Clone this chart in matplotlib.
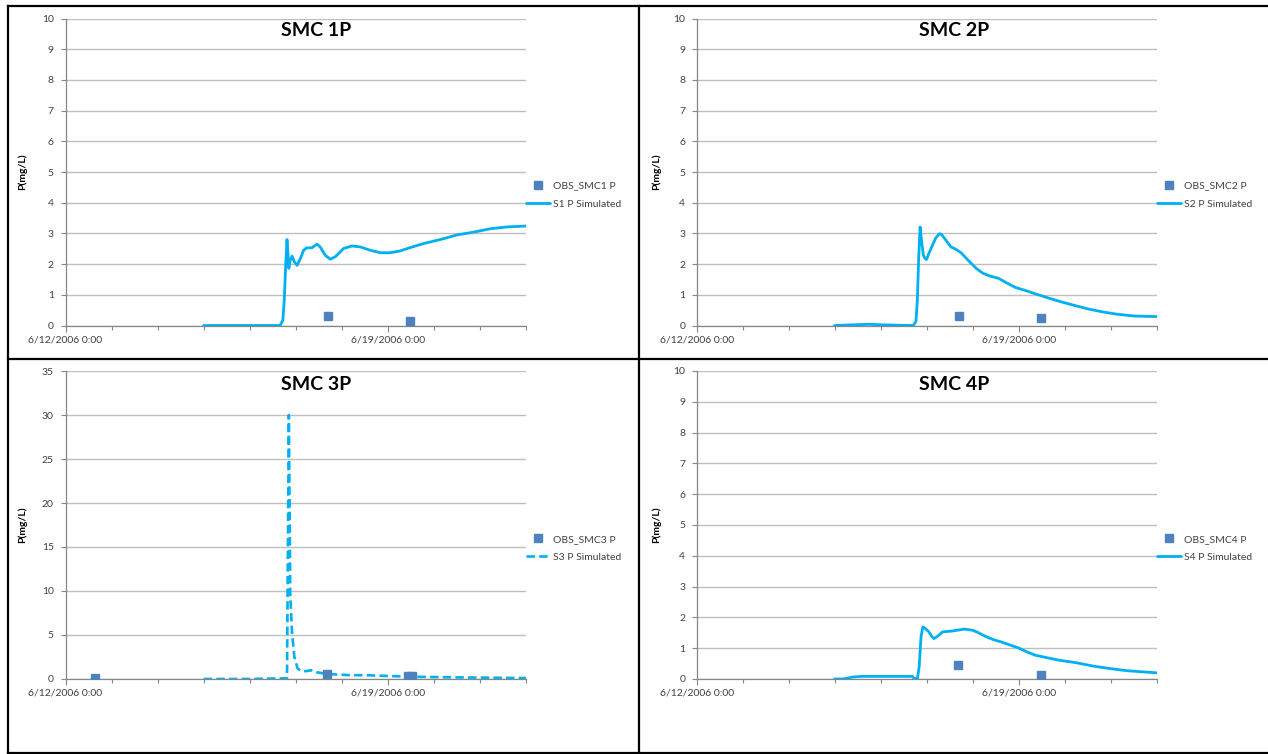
import numpy as np
import matplotlib
matplotlib.use("Agg")
import matplotlib.pyplot as plt
import matplotlib.dates as mdates
from matplotlib.lines import Line2D

plt.rcParams['font.family'] = ['Lato', 'DejaVu Sans']

# ---- data (time in days after 6/12/2006 0:00, P in mg/L) ----
START = np.datetime64('2006-06-12T00:00')

s1_days = [3.0, 3.94, 4.66, 4.72, 4.75, 4.78, 4.81, 4.83, 4.85, 4.88, 4.92, 4.97,
           5.03, 5.10, 5.17, 5.24, 5.35, 5.46, 5.53, 5.64, 5.75, 5.86, 6.04, 6.22,
           6.40, 6.62, 6.84, 7.05, 7.27, 7.49, 7.78, 8.14, 8.50, 8.86, 9.22, 9.58, 10.0]
s1_vals = [0.0, 0.0, 0.0, 0.17, 0.82, 1.90, 2.80, 2.36, 1.86, 2.12, 2.26, 2.07,
           1.96, 2.18, 2.45, 2.53, 2.53, 2.65, 2.56, 2.29, 2.16, 2.24, 2.51, 2.59,
           2.56, 2.45, 2.37, 2.37, 2.43, 2.54, 2.67, 2.80, 2.95, 3.04, 3.15, 3.21, 3.24]
obs1_days = [5.71, 7.48]
obs1_vals = [0.30, 0.14]

s2_days = [2.99, 3.32, 3.76, 4.05, 4.70, 4.76, 4.79, 4.82, 4.85, 4.88, 4.92, 4.96,
           4.99, 5.04, 5.12, 5.19, 5.27, 5.32, 5.41, 5.52, 5.63, 5.74, 5.89, 6.07,
           6.22, 6.37, 6.55, 6.73, 6.92, 7.14, 7.36, 7.65, 7.94, 8.24, 8.53, 8.83,
           9.12, 9.49, 10.0]
s2_vals = [0.0, 0.02, 0.04, 0.02, 0.0, 0.13, 0.83, 2.24, 3.21, 2.78, 2.29, 2.18,
           2.15, 2.35, 2.62, 2.85, 2.99, 2.96, 2.78, 2.56, 2.48, 2.37, 2.13, 1.86,
           1.70, 1.61, 1.54, 1.39, 1.24, 1.14, 1.03, 0.89, 0.76, 0.64, 0.53, 0.44,
           0.37, 0.31, 0.29]
obs2_days = [5.69, 7.47]
obs2_vals = [0.32, 0.24]

s3_days = [3.0, 3.91, 4.80, 4.81, 4.85, 4.87, 4.88, 4.92, 4.97, 5.04, 5.12, 5.24,
           5.33, 5.46, 5.68, 6.12, 6.57, 7.01, 7.45, 8.34, 9.22, 10.0]
s3_vals = [0.0, 0.0, 0.08, 0.08, 30.0, 17.3, 9.7, 5.2, 2.5, 1.2, 0.9, 0.9,
           1.0, 0.76, 0.57, 0.45, 0.42, 0.34, 0.27, 0.19, 0.15, 0.11]
obs3_days = [0.64, 5.68, 7.44, 7.52]
obs3_vals = [0.08, 0.57, 0.32, 0.30]

s4_days = [2.99, 3.17, 3.39, 3.61, 4.05, 4.68, 4.71, 4.79, 4.83, 4.87, 4.91, 4.97,
           5.04, 5.10, 5.15, 5.23, 5.34, 5.56, 5.81, 6.00, 6.11, 6.26, 6.44, 6.62,
           6.81, 6.99, 7.17, 7.36, 7.58, 7.87, 8.24, 8.61, 8.97, 9.34, 9.71, 10.0]
s4_vals = [0.0, 0.0, 0.065, 0.086, 0.086, 0.086, 0.03, 0.0, 0.40, 1.37, 1.69, 1.63,
           1.53, 1.39, 1.31, 1.39, 1.53, 1.56, 1.62, 1.58, 1.51, 1.39, 1.28, 1.20,
           1.10, 1.01, 0.88, 0.77, 0.70, 0.61, 0.53, 0.42, 0.34, 0.27, 0.23, 0.20]
obs4_days = [5.68, 7.47]
obs4_vals = [0.45, 0.13]

titles = ["SMC 1P", "SMC 2P", "SMC 3P", "SMC 4P"]
obs_labels = ["OBS_SMC1 P", "OBS_SMC2 P", "OBS_SMC3 P", "OBS_SMC4 P"]
sim_labels = ["S1 P Simulated", "S2 P Simulated", "S3 P Simulated", "S4 P Simulated"]
y_max = [10, 10, 35, 10]
y_step = [1, 1, 5, 1]
x_tick_labels = ["6/12/2006 0:00", "6/19/2006 0:00"]

SIM_COLOR = "#00B0F0"
OBS_COLOR = "#4F81BD"
GRID_COLOR = "#BFBFBF"
AXIS_COLOR = "#868686"

W, H = 1268, 754


def to_dates(days):
    minutes = np.round(np.asarray(days) * 24 * 60).astype('timedelta64[m]')
    return START + minutes


fig = plt.figure(figsize=(W / 100, H / 100), dpi=100)


def px_rect(left, top, right, bottom):
    return [left / W, 1 - bottom / H, (right - left) / W, (bottom - top) / H]


panels = [
    (px_rect(65.5, 18.5, 526, 325.5), s1_days, s1_vals, obs1_days, obs1_vals, '-', 316, 30, 22, 172),
    (px_rect(697, 18.5, 1157, 325.5), s2_days, s2_vals, obs2_days, obs2_vals, '-', 954, 30, 656, 172),
    (px_rect(65.5, 371, 526, 679), s3_days, s3_vals, obs3_days, obs3_vals, '--', 316, 384, 22, 525),
    (px_rect(697, 371, 1157, 679), s4_days, s4_vals, obs4_days, obs4_vals, '-', 954, 384, 656, 525),
]

major_ticks = mdates.date2num(to_dates([0, 7]))
minor_ticks = mdates.date2num(to_dates(list(range(0, 11))))

for i, (rect, sd, sv, od, ov, ls, tx, ty, yx, yy) in enumerate(panels):
    ax = fig.add_axes(rect)
    if ls == '--':
        sim, = ax.plot(to_dates(sd), sv, color=SIM_COLOR, lw=1.9, ls=(0, (3.2, 1.6)),
                       label=sim_labels[i], zorder=3)
    else:
        sim, = ax.plot(to_dates(sd), sv, color=SIM_COLOR, lw=2.0, label=sim_labels[i],
                       zorder=3, solid_capstyle='round')
    obs, = ax.plot(to_dates(od), ov, ls='none', marker='s', ms=5.2, color=OBS_COLOR,
                   label=obs_labels[i], zorder=4)

    ax.set_xlim(mdates.date2num(to_dates([0]))[0], mdates.date2num(to_dates([10]))[0])
    ax.set_ylim(0, y_max[i])
    ax.set_yticks(np.arange(0, y_max[i] + 0.1, y_step[i]))
    ax.set_xticks(major_ticks)
    ax.set_xticklabels(x_tick_labels)
    ax.set_xticks(minor_ticks, minor=True)
    ax.grid(axis='y', color=GRID_COLOR, lw=1.0)
    ax.set_axisbelow(True)
    for side in ('top', 'right'):
        ax.spines[side].set_visible(False)
    for side in ('left', 'bottom'):
        ax.spines[side].set_color(AXIS_COLOR)
        ax.spines[side].set_linewidth(0.9)
    ax.tick_params(axis='both', which='both', colors=AXIS_COLOR, labelcolor='#404040',
                   labelsize=7.5, width=0.8)
    ax.tick_params(axis='y', length=3.5, pad=5)
    ax.tick_params(axis='x', which='major', length=4, pad=3)
    ax.tick_params(axis='x', which='minor', length=3)

    fig.text(tx / W, 1 - ty / H, titles[i], ha='center', va='center',
             fontsize=14, fontweight='bold', color='black')
    fig.text(yx / W, 1 - yy / H, "P(mg/L)", ha='center', va='center', rotation=90,
             fontsize=7.5, fontweight='bold', color='black')

    ax.legend(handles=[obs, sim], loc='center left', bbox_to_anchor=(1.0, 0.425),
              frameon=False, fontsize=7.5, borderaxespad=0, borderpad=0,
              handlelength=2.3, handletextpad=0.3, labelspacing=0.85,
              labelcolor='#404040')

# panel frame lines
frame_kw = dict(color='black', lw=1.6, transform=fig.transFigure, solid_capstyle='projecting')
for (x0, y0, x1, y1) in [(8, 6, W, 6), (8, 6, 8, 752.5), (8, 752.5, W, 752.5),
                         (639, 6, 639, 752.5), (8, 359, W, 359)]:
    fig.add_artist(Line2D([x0 / W, x1 / W], [1 - y0 / H, 1 - y1 / H], **frame_kw))

fig.savefig("out.png", dpi=100, facecolor='white')
